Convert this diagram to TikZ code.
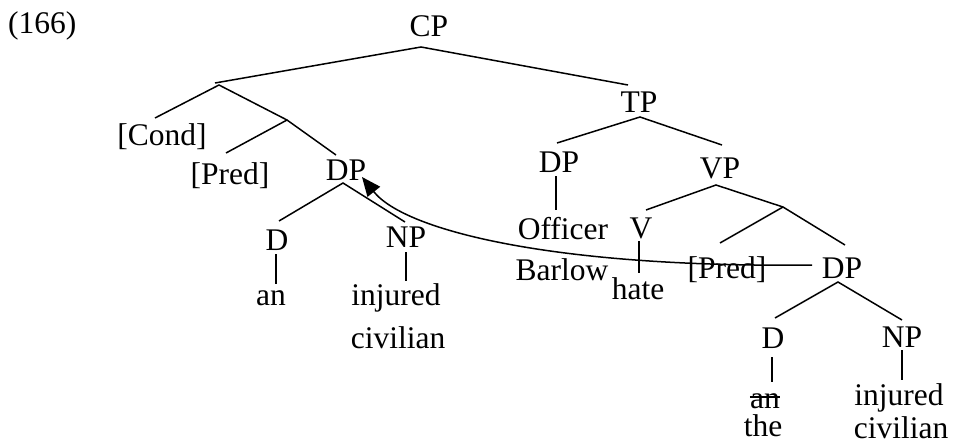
\documentclass[tikz,border=0pt]{standalone}
\usepackage{fontspec}
\setmainfont{Liberation Serif}
\usetikzlibrary{arrows.meta,calc}
\begin{document}
\begin{tikzpicture}[x=1pt,y=-1pt,
  lbl/.style={anchor=base,inner sep=0pt,font=\fontsize{31.5}{36}\selectfont},
  edge/.style={line width=1.5pt},
  mv/.style={line width=1.5pt,-{Triangle[length=19pt,width=16pt]}}]
\useasboundingbox (0,0) rectangle (954,447);
% labels
\node[lbl,anchor=base west] (num) at (8,34) {(166)};
\node[lbl] (CP) at (429,36) {CP};
\node[lbl] (Cond) at (162,145) {[Cond]};
\node[lbl] (PredL) at (230,184) {[Pred]};
\node[lbl] (DPL) at (346,180) {DP};
\node[lbl] (DL) at (277,250) {D};
\node[lbl] (anL) at (271,305) {an};
\node[lbl] (NPL) at (406,247) {NP};
\node[lbl] (injL) at (396,305) {injured};
\node[lbl] (civL) at (398,348) {civilian};
\node[lbl] (TP) at (639,112) {TP};
\node[lbl] (DPO) at (559,172) {DP};
\node[lbl] (Off) at (563,239) {Officer};
\node[lbl] (Bar) at (562,280) {Barlow};
\node[lbl] (VP) at (720,178) {VP};
\node[lbl] (V) at (641,238) {V};
\node[lbl] (hate) at (638,299) {hate};
\node[lbl] (PredR) at (727,278) {[Pred]};
\node[lbl] (DPR) at (842,278) {DP};
\node[lbl] (DR) at (773,348) {D};
\node[lbl] (anR) at (765,408) {an};
\node[lbl] (the) at (763,436) {the};
\node[lbl] (NPR) at (902,347) {NP};
\node[lbl] (injR) at (899,405) {injured};
\node[lbl] (civR) at (901,438) {civilian};
% branch points
\coordinate (cpb) at (421,47);
\coordinate (cpl) at (215,83);
\coordinate (cpr) at (628,85);
\coordinate (na) at (219,85);
\coordinate (condt) at (155,118);
\coordinate (nb) at (287,120);
\coordinate (predlt) at (226,153);
\coordinate (dplt) at (336,155);
\coordinate (dplb) at (343,183);
\coordinate (dlt) at (279,221);
\coordinate (nplt) at (405,222);
\coordinate (dlb) at (276,254);
\coordinate (anlt) at (276,284);
\coordinate (nplb) at (406,252);
\coordinate (injlt) at (406,281);
\coordinate (tpb) at (640,117);
\coordinate (dpot) at (557,143);
\coordinate (vpt) at (722,145);
\coordinate (dpob) at (556,176);
\coordinate (offt) at (556,210);
\coordinate (vpb) at (716,185);
\coordinate (vt) at (646,210);
\coordinate (nc) at (783,207);
\coordinate (predrt) at (720,243);
\coordinate (dprt) at (845,245);
\coordinate (vb) at (639,241);
\coordinate (hatet) at (639,273);
\coordinate (dprb) at (838,282);
\coordinate (drt) at (775,318);
\coordinate (nprt) at (902,320);
\coordinate (drb) at (772,357);
\coordinate (anrt) at (772,382);
\coordinate (nprb) at (902,350);
\coordinate (injrt) at (902,380);
\coordinate (mvs) at (812,265);
\coordinate (mvt) at (362,177);
% tree edges
\draw[edge] (cpl) -- (cpb) -- (cpr);
\draw[edge] (condt) -- (na) -- (nb);
\draw[edge] (predlt) -- (nb) -- (dplt);
\draw[edge] (dlt) -- (dplb) -- (nplt);
\draw[edge] (dlb) -- (anlt);
\draw[edge] (nplb) -- (injlt);
\draw[edge] (dpot) -- (tpb) -- (vpt);
\draw[edge] (dpob) -- (offt);
\draw[edge] (vt) -- (vpb) -- (nc);
\draw[edge] (predrt) -- (nc) -- (dprt);
\draw[edge] (vb) -- (hatet);
\draw[edge] (drt) -- (dprb) -- (nprt);
\draw[edge] (drb) -- (anrt);
\draw[edge] (nprb) -- (injrt);
% strike-through
\draw[line width=1.3pt] ($(anR.base west)+(0,-11)$) -- ($(anR.base east)+(0,-11)$);
% movement arrow
\draw[mv] (mvs) .. controls (560,268) and (406,232) .. (mvt);
\end{tikzpicture}
\end{document}
